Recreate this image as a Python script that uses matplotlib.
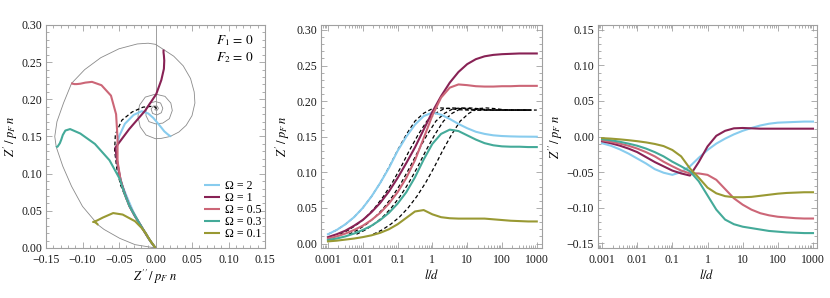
import numpy as np
import matplotlib
matplotlib.use('Agg')
import matplotlib.pyplot as plt
from matplotlib.ticker import FixedLocator, FuncFormatter, MultipleLocator, LogLocator, NullFormatter

plt.rcParams['font.family'] = ['Liberation Serif', 'DejaVu Serif']
plt.rcParams['mathtext.fontset'] = 'stix'

# ---------------- data ----------------
log_ld = [-3, -2.75, -2.5, -2.25, -2, -1.75, -1.5, -1.25, -1, -0.75, -0.5, -0.25,
          0, 0.25, 0.5, 0.75, 1, 1.25, 1.5, 1.75, 2, 2.25, 2.5, 2.75, 3]
ld = 10.0 ** np.array(log_ld)

omega_labels = ['Ω = 2', 'Ω = 1', 'Ω = 0.5', 'Ω = 0.3', 'Ω = 0.1']
colors = ['#88CCEE', '#882255', '#CC6677', '#44AA99', '#999933']

# Z' / p_F n  (real part)
zr_om2 = [0.013, 0.019, 0.027, 0.037, 0.050, 0.066, 0.085, 0.106, 0.130, 0.150, 0.167, 0.179,
          0.184, 0.181, 0.175, 0.168, 0.162, 0.157, 0.154, 0.152, 0.151, 0.1505, 0.1502, 0.1501, 0.150]
zr_om1 = [0.009, 0.013, 0.018, 0.025, 0.033, 0.044, 0.057, 0.073, 0.092, 0.113, 0.135, 0.160,
          0.185, 0.207, 0.226, 0.241, 0.252, 0.259, 0.263, 0.265, 0.266, 0.2665, 0.267, 0.267, 0.267]
zr_om05 = [0.007, 0.010, 0.014, 0.019, 0.025, 0.033, 0.043, 0.056, 0.072, 0.092, 0.117, 0.148,
           0.180, 0.205, 0.219, 0.2235, 0.2225, 0.221, 0.2205, 0.2205, 0.221, 0.221, 0.2215, 0.2215, 0.2215]
zr_om03 = [0.005, 0.007, 0.010, 0.014, 0.019, 0.025, 0.033, 0.043, 0.056, 0.072, 0.093, 0.118,
           0.140, 0.154, 0.160, 0.158, 0.152, 0.146, 0.141, 0.138, 0.1365, 0.136, 0.136, 0.1355, 0.1355]
zr_om01 = [0.003, 0.004, 0.0055, 0.007, 0.009, 0.0115, 0.015, 0.020, 0.027, 0.036, 0.045, 0.047,
           0.041, 0.037, 0.0355, 0.035, 0.035, 0.035, 0.035, 0.034, 0.033, 0.032, 0.0315, 0.031, 0.031]

# Z'' / p_F n  (imaginary part)
zi_om2 = [-0.0095, -0.013, -0.018, -0.024, -0.031, -0.038, -0.046, -0.051, -0.054, -0.050, -0.042, -0.030,
          -0.019, -0.010, -0.003, 0.003, 0.008, 0.012, 0.0155, 0.018, 0.0195, 0.020, 0.0205, 0.021, 0.021]
zi_om1 = [-0.0068, -0.0095, -0.0128, -0.017, -0.022, -0.029, -0.036, -0.042, -0.048, -0.052, -0.055, -0.036,
          -0.014, 0.001, 0.008, 0.0115, 0.012, 0.0115, 0.011, 0.011, 0.011, 0.011, 0.011, 0.011, 0.011]
zi_om05 = [-0.0054, -0.0075, -0.010, -0.013, -0.017, -0.022, -0.028, -0.0355, -0.042, -0.048, -0.052, -0.052,
           -0.054, -0.061, -0.074, -0.087, -0.096, -0.103, -0.108, -0.111, -0.113, -0.114, -0.115, -0.1155, -0.1155]
zi_om03 = [-0.0038, -0.0053, -0.0074, -0.010, -0.013, -0.017, -0.022, -0.028, -0.0355, -0.042, -0.049, -0.063,
           -0.083, -0.103, -0.117, -0.1235, -0.127, -0.129, -0.131, -0.133, -0.134, -0.135, -0.1355, -0.136, -0.136]
zi_om01 = [-0.0023, -0.003, -0.004, -0.0052, -0.0066, -0.0083, -0.0105, -0.0135, -0.019, -0.028, -0.045, -0.058,
           -0.072, -0.080, -0.084, -0.0855, -0.0855, -0.085, -0.0835, -0.082, -0.0805, -0.0795, -0.079, -0.0785, -0.0785]

zr_series = [zr_om2, zr_om1, zr_om05, zr_om03, zr_om01]
zi_series = [zi_om2, zi_om1, zi_om05, zi_om03, zi_om01]

# dashed reference curve (same shape, shifted along l/d in the middle panel)
zr_dash = [0.013, 0.019, 0.027, 0.037, 0.050, 0.066, 0.085, 0.107, 0.131, 0.153, 0.172, 0.183,
           0.1895, 0.1905, 0.1895, 0.188, 0.1875, 0.1875, 0.1875, 0.1875, 0.1875, 0.1875, 0.1875, 0.1875, 0.1875]
zi_dash = [-0.0095, -0.013, -0.018, -0.024, -0.032, -0.040, -0.048, -0.053, -0.056, -0.055, -0.046, -0.032,
           -0.017, -0.006, 0.000, 0.001, 0.0005, 0.0, 0.0, 0.0, 0.0, 0.0, 0.0, 0.0, 0.0]
dash_shift = [1.0, 2.2, 4.0, 6.6, 20.0]

# value of Z at l/d -> 0
z_zero = 0.0

# l/d -> infinity locus (grey spiral) in the Z'' - Z' plane
spiral_zi = [0.000, -0.028, -0.049, -0.0705, -0.0785, -0.100, -0.115, -0.127, -0.136, -0.138,
             -0.135, -0.126, -0.115, -0.097, -0.075, -0.050, -0.025, -0.010, 0.000, 0.011,
             0.025, 0.038, 0.048, 0.053, 0.054, 0.050, 0.042, 0.032, 0.020, 0.008,
             0.000, -0.013, -0.021, -0.024, -0.022, -0.014, 0.000, 0.013, 0.021, 0.023,
             0.019, 0.010, 0.000, -0.009, -0.013, -0.013, -0.008, 0.000, 0.007, 0.010,
             0.008, 0.002, -0.004, -0.006, -0.003, 0.002, 0.004, 0.002, -0.001, 0.000]
spiral_zr = [0.000, 0.0045, 0.013, 0.025, 0.031, 0.056, 0.083, 0.110, 0.136, 0.150,
             0.170, 0.195, 0.2215, 0.240, 0.256, 0.268, 0.2745, 0.2755, 0.274, 0.267,
             0.258, 0.245, 0.228, 0.210, 0.195, 0.178, 0.165, 0.156, 0.150, 0.1475,
             0.147, 0.152, 0.163, 0.177, 0.192, 0.203, 0.207, 0.204, 0.195, 0.185,
             0.174, 0.168, 0.167, 0.170, 0.178, 0.188, 0.195, 0.197, 0.195, 0.188,
             0.182, 0.179, 0.181, 0.187, 0.191, 0.191, 0.188, 0.185, 0.186, 0.1875]

log_tick_vals = [0.001, 0.01, 0.1, 1, 10, 100, 1000]
log_tick_labels = ['0.001', '0.01', '0.1', '1', '10', '100', '1000']

# ---------------- styling helpers ----------------
FRAME = '#a0a0a0'
LW = 1.5


def fmt2(v, pos=None):
    s = f"{v:.2f}"
    if s.startswith('-'):
        s = '\u2212' + s[1:]
    if s == '\u22120.00':
        s = '0.00'
    return s


def style(ax):
    for sp in ax.spines.values():
        sp.set_color(FRAME)
        sp.set_linewidth(0.8)
    ax.tick_params(which='both', direction='in', top=True, right=True,
                   color=FRAME, labelcolor='#1a1a1a', labelsize=8.5, width=0.6)
    ax.tick_params(which='major', length=4)
    ax.tick_params(axis='y', which='major', pad=2.5)
    ax.tick_params(axis='x', which='major', pad=4)
    ax.tick_params(which='minor', length=2)


def log_x(ax, lo, hi):
    ax.set_xscale('log')
    ax.set_xlim(lo, hi)
    ax.xaxis.set_major_locator(FixedLocator(log_tick_vals))
    ax.xaxis.set_major_formatter(FuncFormatter(lambda v, p: log_tick_labels[log_tick_vals.index(v)]
                                               if v in log_tick_vals else ''))
    ax.xaxis.set_minor_locator(LogLocator(base=10, subs=np.arange(2, 10), numticks=20))
    ax.xaxis.set_minor_formatter(NullFormatter())


fig = plt.figure(figsize=(8.3, 2.98), dpi=100)
ax1 = fig.add_axes([46 / 830, 50 / 298, 219 / 830, 223 / 298])
ax2 = fig.add_axes([321 / 830, 50 / 298, 221 / 830, 223 / 298])
ax3 = fig.add_axes([597.5 / 830, 50 / 298, 219 / 830, 223 / 298])

# ---------------- panel 1 : Z' vs Z'' ----------------
ax1.axvline(0, color=FRAME, lw=0.7, zorder=0)
ax1.plot(spiral_zi, spiral_zr, color='#8a8a8a', lw=0.6, zorder=1)
ax1.plot(np.r_[z_zero, zi_dash], np.r_[z_zero, zr_dash], color='black', lw=0.9,
         dashes=(3, 2), zorder=2)
handles = []
for zr, zi, c, lab in zip(zr_series, zi_series, colors, omega_labels):
    h, = ax1.plot(np.r_[z_zero, zi], np.r_[z_zero, zr], color=c, lw=LW, label=lab, zorder=3,
                  solid_capstyle='butt')
    handles.append(h)
ax1.set_xlim(-0.15, 0.15)
ax1.set_ylim(0, 0.30)
ax1.xaxis.set_major_locator(MultipleLocator(0.05))
ax1.xaxis.set_minor_locator(MultipleLocator(0.01))
ax1.yaxis.set_major_locator(MultipleLocator(0.05))
ax1.yaxis.set_minor_locator(MultipleLocator(0.01))
ax1.xaxis.set_major_formatter(FuncFormatter(fmt2))
ax1.yaxis.set_major_formatter(FuncFormatter(fmt2))
style(ax1)
ax1.set_xlabel(r"$Z''\,/\;p_F\;n$", fontsize=9, labelpad=2)
ax1.set_ylabel(r"$Z'\,/\;p_F\;n$", fontsize=9, labelpad=1.5)
ax1.text(0.775, 0.928, r"$F_1\,=\,0$", transform=ax1.transAxes, fontsize=9.5, ha='left', va='center')
ax1.text(0.775, 0.855, r"$F_2\,=\,0$", transform=ax1.transAxes, fontsize=9.5, ha='left', va='center')
leg = ax1.legend(handles=handles, loc='lower right', bbox_to_anchor=(0.985, 0.035),
                 frameon=False, fontsize=8.6, handlelength=1.3, handletextpad=0.45,
                 labelspacing=0.0, borderpad=0.0, borderaxespad=0.0)

# ---------------- panel 2 : Z' vs l/d ----------------
for s in dash_shift:
    xd = ld * s
    m = xd <= 1000.0
    ax2.plot(xd[m], np.array(zr_dash)[m], color='black', lw=0.9, dashes=(3, 2), zorder=2)
for zr, c in zip(zr_series, colors):
    ax2.plot(ld, zr, color=c, lw=LW, zorder=3)
log_x(ax2, 10 ** -3.2, 10 ** 3.15)
ax2.set_ylim(-0.0063, 0.307)
ax2.yaxis.set_major_locator(MultipleLocator(0.05))
ax2.yaxis.set_minor_locator(MultipleLocator(0.01))
ax2.yaxis.set_major_formatter(FuncFormatter(fmt2))
style(ax2)
ax2.set_xlabel(r"$l/d$", fontsize=9, labelpad=2)
ax2.set_ylabel(r"$Z'\,/\;p_F\;n$", fontsize=9, labelpad=3)

# ---------------- panel 3 : Z'' vs l/d ----------------
for zi, c in zip(zi_series, colors):
    ax3.plot(ld, zi, color=c, lw=LW, zorder=3)
log_x(ax3, 10 ** -3.13, 10 ** 3.1)
ax3.set_ylim(-0.157, 0.157)
ax3.yaxis.set_major_locator(MultipleLocator(0.05))
ax3.yaxis.set_minor_locator(MultipleLocator(0.01))
ax3.yaxis.set_major_formatter(FuncFormatter(fmt2))
style(ax3)
ax3.set_xlabel(r"$l/d$", fontsize=9, labelpad=2)
ax3.set_ylabel(r"$Z''\,/\;p_F\;n$", fontsize=9, labelpad=1)

fig.savefig('out.png', dpi=100)
